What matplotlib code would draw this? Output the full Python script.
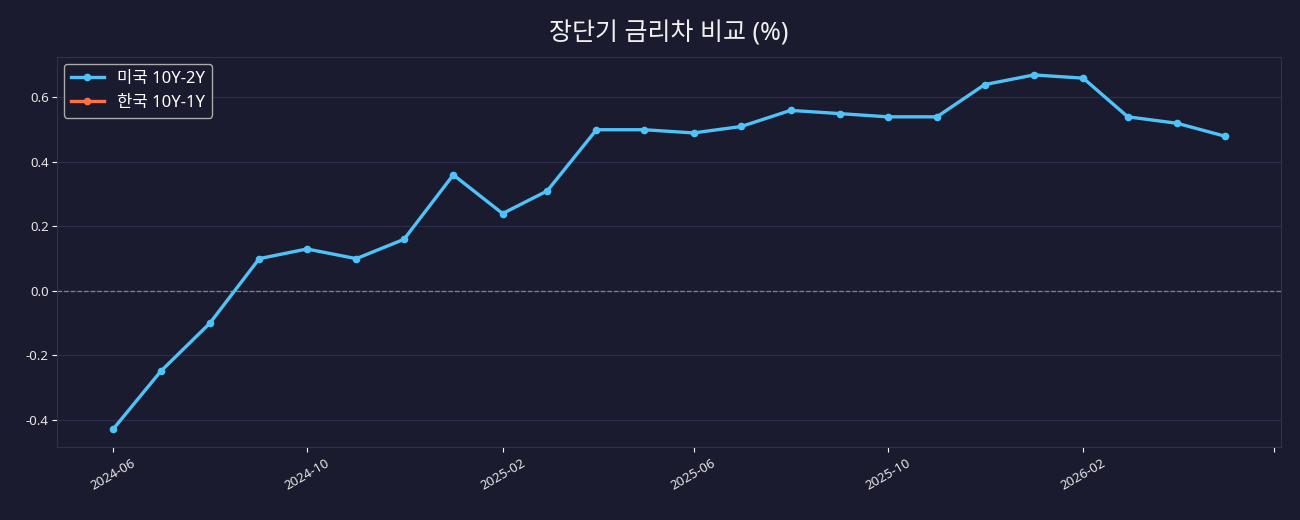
import numpy as np
import pandas as pd
import matplotlib
matplotlib.use("Agg")
import matplotlib.pyplot as plt

plt.rcParams['font.family'] = ['Noto Sans', 'Noto Sans CJK KR', 'DejaVu Sans']
plt.rcParams['axes.unicode_minus'] = False

# 월별 데이터
months = pd.date_range("2024-06-01", "2026-05-01", freq="MS")
us_spread = [-0.43, -0.25, -0.10, 0.10, 0.13, 0.10, 0.16, 0.36, 0.24, 0.31,
             0.50, 0.50, 0.49, 0.51, 0.56, 0.55, 0.54, 0.54, 0.64, 0.67,
             0.66, 0.54, 0.52, 0.48]
kr_months = []
kr_spread = []

tick_dates = pd.to_datetime(["2024-06-01", "2024-10-01", "2025-02-01", "2025-06-01",
                             "2025-10-01", "2026-02-01", "2026-06-01"])
tick_labels = ["2024-06", "2024-10", "2025-02", "2025-06", "2025-10", "2026-02", ""]

bg = "#1a1b2e"
fig = plt.figure(figsize=(13, 5.2), dpi=100, facecolor=bg)
ax = fig.add_axes([0.044, 0.14, 0.941, 0.75])
ax.set_facecolor(bg)

ax.plot(months, us_spread, color="#4fc3f7", lw=2.4, marker="o", ms=4.5, label="미국 10Y-2Y")
ax.plot(kr_months, kr_spread, color="#ff7043", lw=2.4, marker="o", ms=4.5, label="한국 10Y-1Y")
ax.axhline(0, color="#9a9aaa", lw=0.9, ls="--", alpha=0.8)

ax.set_xticks(tick_dates)
ax.set_xticklabels(tick_labels, rotation=30, ha="center")
ax.set_yticks([-0.4, -0.2, 0.0, 0.2, 0.4, 0.6])
ax.set_yticklabels(["-0.4", "-0.2", "0.0", "0.2", "0.4", "0.6"])
ax.set_xlim(months[0] - pd.Timedelta(days=35), months[-1] + pd.Timedelta(days=35))
ax.set_ylim(-0.485, 0.725)

ax.grid(True, axis="y", color="#2c2d4e", lw=0.9)
ax.tick_params(colors="white", labelsize=9.5, labelcolor="#e6e6e6")
ax.tick_params(axis="y", pad=2.5)
for s in ax.spines.values():
    s.set_color("#2f3052")

ax.set_title("장단기 금리차 비교 (%)", color="#f0f0f0", fontsize=18, pad=12)
leg = ax.legend(loc="upper left", fontsize=12, facecolor=bg, edgecolor="#aaaaaa",
                labelcolor="white", framealpha=1, borderaxespad=0.4)

fig.savefig("out.png", facecolor=bg)
